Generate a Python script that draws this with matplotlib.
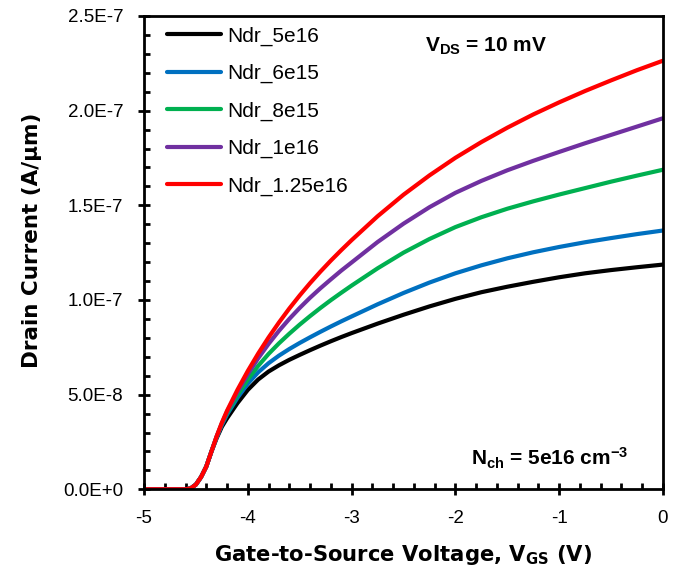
import matplotlib
matplotlib.use("Agg")
import matplotlib.pyplot as plt
from matplotlib.ticker import FixedLocator, MultipleLocator

# gate voltage grid (V)
vgs = [-5.0, -4.8, -4.6, -4.55, -4.5, -4.45, -4.4, -4.35,
       -4.3, -4.25, -4.2, -4.1, -4.0, -3.9, -3.8, -3.7, -3.6, -3.5, -3.4, -3.3, -3.2, -3.1, -3.0,
       -2.75, -2.5, -2.25, -2.0, -1.75, -1.5, -1.25, -1.0, -0.75, -0.5, -0.25, 0.0]

# drain current in units of 1e-7 A/um
sub = [0.0, 0.0, 0.0, 0.005, 0.025, 0.065, 0.12, 0.20]
ndr_5e16 = sub + [0.27, 0.33, 0.375, 0.455, 0.525, 0.58, 0.622, 0.655, 0.684, 0.71, 0.735,
                  0.759, 0.782, 0.804, 0.825,
                  0.875, 0.922, 0.966, 1.006, 1.041, 1.07, 1.096, 1.12, 1.141, 1.158, 1.173, 1.187]
ndr_6e15 = sub + [0.275, 0.34, 0.395, 0.483, 0.558, 0.618, 0.666, 0.706, 0.741, 0.773, 0.803,
                  0.832, 0.86, 0.887, 0.913,
                  0.977, 1.037, 1.092, 1.141, 1.183, 1.22, 1.252, 1.28, 1.305, 1.327, 1.348, 1.367]
ndr_8e15 = sub + [0.278, 0.345, 0.402, 0.497, 0.58, 0.652, 0.715, 0.771, 0.822, 0.87, 0.915,
                  0.958, 0.999, 1.038, 1.076,
                  1.167, 1.25, 1.322, 1.385, 1.437, 1.482, 1.521, 1.557, 1.591, 1.625, 1.657, 1.688]
ndr_1e16 = sub + [0.279, 0.348, 0.41, 0.515, 0.608, 0.692, 0.768, 0.837, 0.9, 0.958, 1.012,
                  1.062, 1.109, 1.155, 1.198,
                  1.306, 1.403, 1.49, 1.566, 1.629, 1.685, 1.735, 1.782, 1.828, 1.872, 1.916, 1.96]
ndr_125e16 = sub + [0.28, 0.352, 0.415, 0.525, 0.625, 0.717, 0.802, 0.881, 0.955, 1.024, 1.089,
                    1.15, 1.208, 1.263, 1.316,
                    1.442, 1.556, 1.658, 1.751, 1.834, 1.91, 1.98, 2.044, 2.104, 2.16, 2.214, 2.264]

series = [
    ("Ndr_5e16", ndr_5e16, "#000000"),
    ("Ndr_6e15", ndr_6e15, "#0070C0"),
    ("Ndr_8e15", ndr_8e15, "#00B050"),
    ("Ndr_1e16", ndr_1e16, "#7030A0"),
    ("Ndr_1.25e16", ndr_125e16, "#FF0000"),
]

y_ticks = [0.0, 0.5e-7, 1.0e-7, 1.5e-7, 2.0e-7, 2.5e-7]
y_tick_labels = ["0.0E+0", "5.0E-8", "1.0E-7", "1.5E-7", "2.0E-7", "2.5E-7"]
x_ticks = [-5, -4, -3, -2, -1, 0]
x_tick_labels = ["-5", "-4", "-3", "-2", "-1", "0"]

plt.rcParams["font.family"] = ["Liberation Sans", "DejaVu Sans"]
plt.rcParams["mathtext.fontset"] = "custom"
plt.rcParams["mathtext.rm"] = "Liberation Sans"
plt.rcParams["mathtext.bf"] = "Liberation Sans:bold"

fig = plt.figure(figsize=(6.75, 5.66), dpi=100)
ax = fig.add_axes([144 / 675, 1 - 489.3 / 566, (663 - 144) / 675, (489.3 - 16) / 566])

for name, values, color in series:
    ax.plot(vgs, [v * 1e-7 for v in values], color=color, lw=3, label=name,
            solid_capstyle="round", solid_joinstyle="round")

ax.set_xlim(-5, 0)
ax.set_ylim(0, 2.5e-7)
ax.xaxis.set_major_locator(FixedLocator(x_ticks))
ax.set_xticklabels(x_tick_labels)
ax.yaxis.set_major_locator(FixedLocator(y_ticks))
ax.set_yticklabels(y_tick_labels)
ax.xaxis.set_minor_locator(MultipleLocator(0.2))
ax.yaxis.set_minor_locator(MultipleLocator(0.1e-7))

for s in ax.spines.values():
    s.set_linewidth(2.0)
ax.tick_params(which="major", direction="inout", length=8, width=2.0,
               labelsize=13.5, pad=11)
ax.tick_params(which="minor", direction="in", length=4, width=2.0)

ax.set_xlabel(r"Gate-to-Source Voltage, $\mathbf{V_{GS}}$ (V)", fontsize=15.2,
              fontweight="bold", family="DejaVu Sans", math_fontfamily="dejavusans")
ax.set_ylabel("Drain Current (A/μm)", fontsize=15.5, fontweight="bold",
              family="DejaVu Sans")
ax.xaxis.set_label_coords(0.5, -0.113)
ax.yaxis.set_label_coords(-0.197, 0.527)

ax.legend(loc="upper left", frameon=False, fontsize=15, handlelength=2.55,
          handletextpad=0.3, labelspacing=0.88, borderaxespad=0.1,
          bbox_to_anchor=(0.025, 1.0))

ax.text(0.66, 0.935, r"$\mathbf{V_{DS}}$ = 10 mV", transform=ax.transAxes,
        fontsize=15, fontweight="bold", ha="center", va="center")
ax.text(0.782, 0.065, r"$\mathbf{N_{ch}}$ = 5e16 cm$\mathbf{^{-3}}$",
        transform=ax.transAxes, fontsize=15, fontweight="bold",
        ha="center", va="center")

fig.savefig("out.png", dpi=100)
